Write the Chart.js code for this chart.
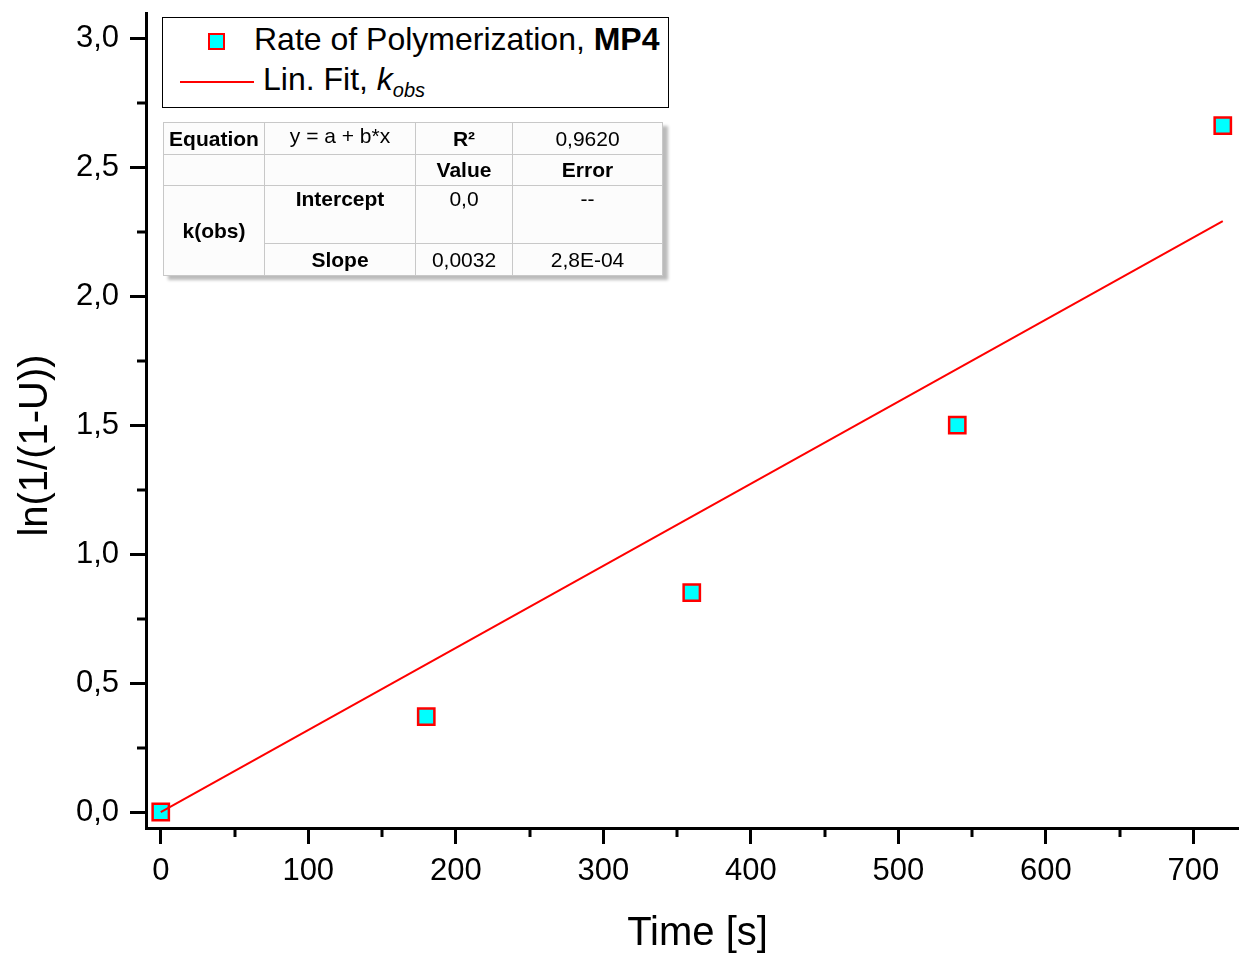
<!DOCTYPE html>
<html>
<head>
<meta charset="utf-8">
<script src="https://cdn.jsdelivr.net/npm/chart.js@4.4.0/dist/chart.umd.min.js"></script>
<style>
  body { margin: 0; background: #fff; }
  #wrap { position: relative; width: 1239px; height: 953px; font-family: "Liberation Sans", Arial, sans-serif; }
  #legend {
    position: absolute; left: 162px; top: 17px; width: 505px; height: 89px;
    border: 1.5px solid #000; background: #fff; font-size: 32px; color: #000;
  }
  #legend .row { position: absolute; left: 0; white-space: nowrap; }
  #legend .mark {
    position: absolute; width: 13px; height: 13px; background: #00ffff; border: 2.5px solid #ff0000;
  }
  #legend .line { position: absolute; height: 2px; background: #ff0000; }
  #fit {
    position: absolute; left: 163px; top: 122px; border-collapse: collapse;
    font-size: 21px; background: #fcfcfc; color: #000;
    border: 1px solid #666; box-shadow: 5px 4px 3px #bbb;
  }
  #fit td { border: 1px solid #c8c8c8; padding: 0; text-align: center; vertical-align: top; line-height: 26px; }
  #fit .b { font-weight: bold; }
</style>
</head>
<body>
<div id="wrap">
  <canvas id="chart" width="1239" height="953"></canvas>

  <div id="legend">
    <span class="mark" style="left:45px; top:15px;"></span>
    <span class="row" style="left:91px; top:3px;">Rate of Polymerization, <b>MP4</b></span>
    <span class="line" style="left:17px; width:74px; top:63px;"></span>
    <span class="row" style="left:100px; top:43px;">Lin. Fit, <i>k</i><sub style="font-size:20px;"><i>obs</i></sub></span>
  </div>

  <table id="fit">
    <tr style="height:32px;">
      <td class="b" style="width:100px; vertical-align:middle;">Equation</td>
      <td style="width:150px;">y = a + b*x</td>
      <td class="b" style="width:96px; vertical-align:middle;">R²</td>
      <td style="width:149px; vertical-align:middle;">0,9620</td>
    </tr>
    <tr style="height:31px;">
      <td></td><td></td>
      <td class="b" style="vertical-align:middle;">Value</td><td class="b" style="vertical-align:middle;">Error</td>
    </tr>
    <tr style="height:58px;">
      <td class="b" rowspan="2" style="vertical-align:middle;">k(obs)</td>
      <td class="b">Intercept</td><td>0,0</td><td>--</td>
    </tr>
    <tr style="height:32px;">
      <td class="b" style="vertical-align:middle;">Slope</td>
      <td style="vertical-align:middle;">0,0032</td>
      <td style="vertical-align:middle;">2,8E-04</td>
    </tr>
  </table>
</div>

<script>
// measured data: ln(1/(1-U)) vs time
const times = [0, 180, 360, 540, 720];
const lnValues = [0, 0.37, 0.85, 1.50, 2.66];

// linear fit through origin, k_obs
const fitX = [0, 720];
const fitY = [0, 2.29];

const xTicks = [0, 100, 200, 300, 400, 500, 600, 700];
const xMinor = [50, 150, 250, 350, 450, 550, 650];
const yTicks = [0, 0.5, 1.0, 1.5, 2.0, 2.5, 3.0];
const yMinor = [0.25, 0.75, 1.25, 1.75, 2.25, 2.75];

const xTitle = 'Time [s]';
const yTitle = 'ln(1/(1-U))';

const fontFamily = '"Liberation Sans", Arial, sans-serif';

// short minor ticks outside the axes + axis titles (offset like the original)
const axisExtras = {
    id: 'axisExtras',
    afterDraw(chart) {
        const ctx = chart.ctx;
        const area = chart.chartArea;
        const x = chart.scales.x, y = chart.scales.y;
        ctx.save();
        ctx.strokeStyle = '#000';
        ctx.lineWidth = 3;
        ctx.beginPath();
        xMinor.forEach(v => {
            const px = Math.round(x.getPixelForValue(v));
            ctx.moveTo(px, area.bottom);
            ctx.lineTo(px, area.bottom + 9);
        });
        yMinor.forEach(v => {
            const py = Math.round(y.getPixelForValue(v));
            ctx.moveTo(area.left, py);
            ctx.lineTo(area.left - 9, py);
        });
        ctx.stroke();

        ctx.fillStyle = '#000';
        ctx.font = '40px ' + fontFamily;
        ctx.textAlign = 'center';
        ctx.textBaseline = 'middle';
        ctx.fillText(xTitle, (area.left + area.right) / 2 + 5, chart.height - 19);

        ctx.translate(36, (area.top + area.bottom) / 2 + 25);
        ctx.rotate(-Math.PI / 2);
        ctx.fillText(yTitle, 0, 0);
        ctx.restore();
    }
};

const tickFont = { family: fontFamily, size: 31 };

new Chart(document.getElementById('chart'), {
    type: 'scatter',
    data: {
        datasets: [{
            label: 'Lin. Fit, k_obs',
            type: 'line',
            data: fitX.map((t, i) => ({ x: t, y: fitY[i] })),
            borderColor: '#ff0000',
            borderWidth: 2,
            pointRadius: 0,
            fill: false,
            order: 1
        }, {
            label: 'Rate of Polymerization, MP4',
            data: times.map((t, i) => ({ x: t, y: lnValues[i] })),
            pointStyle: 'rect',
            pointRadius: 11.5,
            pointBackgroundColor: '#00ffff',
            pointBorderColor: '#ff0000',
            pointBorderWidth: 2.5,
            clip: false,
            order: 2
        }]
    },
    options: {
        responsive: false,
        animation: false,
        layout: { autoPadding: false, padding: { top: 13, right: 0, left: 0, bottom: 0 } },
        plugins: { legend: { display: false }, tooltip: { enabled: false } },
        scales: {
            x: {
                type: 'linear',
                min: -10,
                max: 731,
                afterBuildTicks: s => { s.ticks = xTicks.map(v => ({ value: v })); },
                afterFit: s => { s.height = 125; s.paddingLeft = 0; s.paddingRight = 0; },
                border: { color: '#000', width: 3 },
                grid: { drawOnChartArea: false, tickLength: 16, tickWidth: 3, tickColor: '#000' },
                ticks: { color: '#000', font: tickFont, padding: 9, maxRotation: 0 },
                title: { display: false }
            },
            y: {
                type: 'linear',
                min: -0.062,
                max: 3.097,
                afterBuildTicks: s => { s.ticks = yTicks.map(v => ({ value: v })); },
                afterFit: s => { s.width = 146; s.paddingTop = 0; s.paddingBottom = 0; },
                border: { color: '#000', width: 3 },
                grid: { drawOnChartArea: false, tickLength: 16, tickWidth: 3, tickColor: '#000' },
                ticks: { color: '#000', font: tickFont, padding: 11, callback: v => v.toFixed(1).replace('.', ',') },
                title: { display: false }
            }
        }
    },
    plugins: [axisExtras]
});
</script>
</body>
</html>
